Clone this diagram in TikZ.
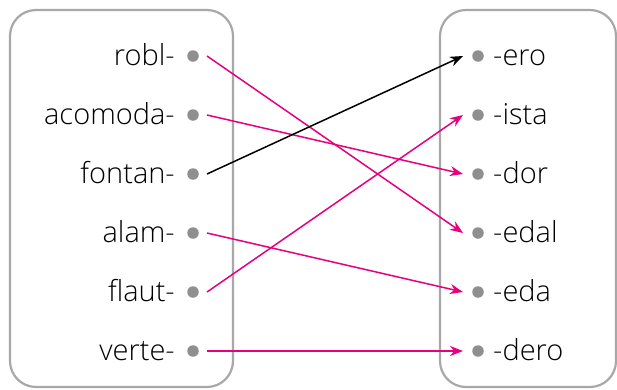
\documentclass[tikz,border=0pt]{standalone}
\usepackage{fontspec}
\setmainfont{Open Sans Light}
\usetikzlibrary{arrows.meta}
\definecolor{boxgray}{HTML}{A8A8A8}
\definecolor{dotgray}{HTML}{8F8F90}
\definecolor{pink}{HTML}{E6007E}
\tikzset{
  frame/.style={draw=boxgray, line width=2.2pt, rounded corners=26pt},
  dotnode/.style={circle, fill=dotgray, inner sep=0pt, minimum size=11.5pt},
  lword/.style={anchor=base east, inner sep=0pt, font=\fontsize{29}{29}\selectfont},
  rword/.style={anchor=base west, inner sep=0pt, font=\fontsize{29}{29}\selectfont},
  link/.style={draw=pink, line width=1.5pt, -{Stealth[length=13pt,width=10pt]}},
  blink/.style={draw=black, line width=1.5pt, -{Stealth[length=13pt,width=10pt]}},
}
\begin{document}
\begin{tikzpicture}[x=1pt,y=-1pt]
\useasboundingbox (0,0) rectangle (617,389);
\draw[frame] (10,10) rectangle (233,387);
\draw[frame] (440,10) rectangle (616,387);
\foreach \n/\t/\y in {l1/robl-/56, l2/acomoda-/115, l3/fontan-/174, l4/alam-/233, l5/flaut-/292, l6/verte-/351}{
  \node[dotnode] (\n) at (193,\y) {};
  \node[lword] at (175,\y+9) {\t};
  \coordinate (\n s) at (207,\y);
}
\foreach \n/\t/\y in {r1/-ero/56, r2/-ista/115, r3/-dor/174, r4/-edal/233, r5/-eda/292, r6/-dero/351}{
  \node[dotnode] (\n) at (478,\y) {};
  \node[rword] at (493,\y+9) {\t};
  \coordinate (\n e) at (463,\y);
}
\draw[link] (l1s) -- (r4e);
\draw[link] (l2s) -- (r3e);
\draw[blink] (l3s) -- (r1e);
\draw[link] (l4s) -- (r5e);
\draw[link] (l5s) -- (r2e);
\draw[link] (l6s) -- (r6e);
\end{tikzpicture}
\end{document}
